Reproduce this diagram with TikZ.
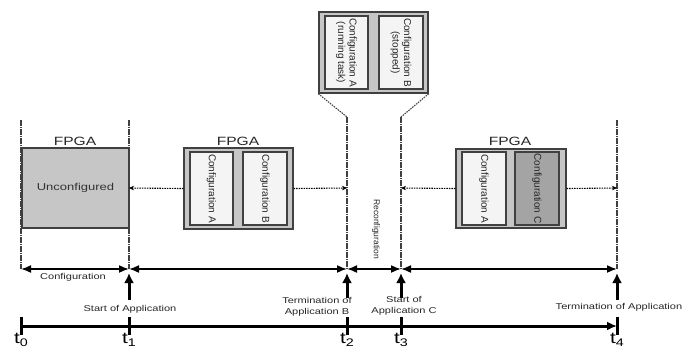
\documentclass[tikz,border=0pt]{standalone}
\usepackage{fontspec}
\setmainfont{Liberation Sans}
\newfontfamily\hf{Liberation Sans}[FakeStretch=1.3]
\usetikzlibrary{arrows.meta}
\definecolor{boxgray}{HTML}{C6C6C6}
\definecolor{innerw}{HTML}{F4F4F4}
\definecolor{innerd}{HTML}{A4A4A4}
\definecolor{edge}{HTML}{404040}
\begin{document}
\begin{tikzpicture}[x=1pt,y=-1pt,
  outerbox/.style={draw=edge, line width=1.4pt, fill=boxgray, inner sep=0pt},
  innerbox/.style={draw=edge, line width=1.3pt, fill=innerw, inner sep=0pt},
  rtext/.style={rotate=-90, font=\fontsize{10}{11.5}\selectfont, text=black!85, align=center},
  fpga/.style={font=\hf\fontsize{12}{12}\selectfont, text=black!85},
  small/.style={font=\hf\fontsize{8.5}{10.5}\selectfont, text=black!85, align=center},
  vline/.style={draw=edge, line width=1.3pt, dash pattern=on 6pt off 1pt on 1pt off 1pt},
  dotarrow/.style={draw=black, line width=1.1pt, dash pattern=on 1.5pt off 1pt, -{Stealth[length=5pt,width=4.5pt]}},
  funnel/.style={draw=edge, line width=1.1pt, dash pattern=on 1.5pt off 1pt},
  span/.style={draw=black, line width=1.7pt, {Latex[length=10pt,width=8pt]}-{Latex[length=10pt,width=8pt]}},
  uparrow/.style={draw=black, line width=3pt, -{Latex[length=10pt,width=10pt]}},
  axis/.style={draw=black, line width=3pt},
  tick/.style={draw=black, line width=3pt},
  tlabel/.style={anchor=base, inner sep=0pt, font=\hf\fontsize{16}{16}\selectfont}
]
\useasboundingbox (0,0) rectangle (686,349);

% vertical time lines
\coordinate (v0a) at (21,120);  \coordinate (v0b) at (21,269);
\coordinate (v1a) at (129,120); \coordinate (v1b) at (129,269);
\coordinate (v2a) at (347,117); \coordinate (v2b) at (347,269);
\coordinate (v3a) at (401,117); \coordinate (v3b) at (401,269);
\coordinate (v4a) at (617,120); \coordinate (v4b) at (617,269);
\draw[vline] (v0a) -- (v0b);
\draw[vline] (v1a) -- (v1b);
\draw[vline] (v2a) -- (v2b);
\draw[vline] (v3a) -- (v3b);
\draw[vline] (v4a) -- (v4b);

% box 1
\node[fpga] (f1) at (75,141) {FPGA};
\node[outerbox, minimum width=107pt, minimum height=80pt] (b1) at (75.5,188) {\hf\fontsize{10}{10}\selectfont\color{black!80} Unconfigured};

% box 2
\node[fpga] (f2) at (238,141) {FPGA};
\node[outerbox, minimum width=109pt, minimum height=81pt] (b2) at (238.5,188.5) {};
\node[innerbox, minimum width=43pt, minimum height=73pt] (b2a) at (211.5,188.5) {};
\node[rtext] at (b2a) {Configuration A};
\node[innerbox, minimum width=44pt, minimum height=73pt] (b2b) at (265,188.5) {};
\node[rtext] at (b2b) {Configuration B};

% box 3
\node[fpga] (f3) at (510,141) {FPGA};
\node[outerbox, minimum width=110pt, minimum height=79pt] (b3) at (511,188.5) {};
\node[innerbox, minimum width=44pt, minimum height=73pt] (b3a) at (484,188.5) {};
\node[rtext] at (b3a) {Configuration A};
\node[innerbox, fill=innerd, minimum width=44pt, minimum height=73pt] (b3c) at (537,188.5) {};
\node[rtext] at (b3c) {Configuration C};

% popup
\node[outerbox, minimum width=109pt, minimum height=81pt] (p) at (373.5,52.5) {};
\node[innerbox, minimum width=43pt, minimum height=73pt] (pa) at (346.5,52.5) {};
\node[rtext] at (pa) {Configuration A\\(running task)};
\node[innerbox, minimum width=44pt, minimum height=73pt] (pb) at (401,52.5) {};
\node[rtext] at (pb) {Configuration B\\(stopped)};
\draw[funnel] (p.south west) -- (v2a);
\draw[funnel] (p.south east) -- (v3a);

% dotted arrows
\coordinate (d1) at (129,188);
\coordinate (d2) at (347,188);
\coordinate (d3) at (401,188);
\coordinate (d4) at (617,188);
\draw[dotarrow] (b2.west) -- (d1);
\draw[dotarrow] (b2.east) -- (d2);
\draw[dotarrow] (b3.west) -- (d3);
\draw[dotarrow] (b3.east) -- (d4);

% spans
\draw[span] (v0b) -- (v1b);
\draw[span] (v1b) -- (v2b);
\draw[span] (v2b) -- (v3b);
\draw[span] (v3b) -- (v4b);
\node[small] (lc) at (73,277) {Configuration};
\node[rotate=-90, font=\fontsize{8.5}{10}\selectfont, text=black!85] (lr) at (376,229) {Reconfiguration};

% up arrows
\coordinate (u1a) at (129,300); \coordinate (u1b) at (129,273);
\coordinate (u2a) at (347,298); \coordinate (u2b) at (347,273);
\coordinate (u3a) at (401,298); \coordinate (u3b) at (401,273);
\coordinate (u4a) at (617,300); \coordinate (u4b) at (617,273);
\draw[uparrow] (u1a) -- (u1b);
\draw[uparrow] (u2a) -- (u2b);
\draw[uparrow] (u3a) -- (u3b);
\draw[uparrow] (u4a) -- (u4b);

\node[small] (s1) at (130,309) {Start of Application};
\node[small] (s2) at (317,307) {Termination of\\Application B};
\node[small] (s3) at (404,306) {Start of\\Application C};
\node[small] (s4) at (619,307) {Termination of Application};

% axis
\coordinate (a0) at (21,326);
\coordinate (a4) at (617,326);
\draw[axis, -{Latex[length=10pt,width=9pt]}] (a0) -- (a4);
\foreach \x/\n in {21/0,129/1,347/2,401/3,617/4}{
  \draw[tick] (\x,317) -- (\x,335);
  \node[tlabel] (tl\n) at (\x,343) {t\raisebox{-3pt}{\fontsize{11}{11}\selectfont\n}};
}
\end{tikzpicture}
\end{document}
